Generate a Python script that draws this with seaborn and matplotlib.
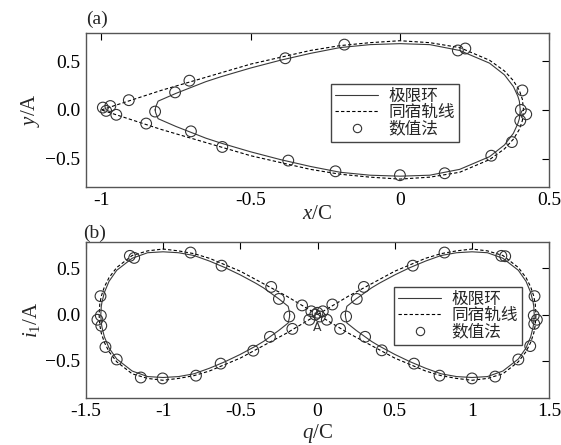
import matplotlib
matplotlib.use('Agg')
import matplotlib.pyplot as plt
import seaborn as sns
from matplotlib.lines import Line2D

# ---- data ----
# (a) limit cycle, upper half (x, y); lower half is the mirror in y
lc_a_x = [-0.82, -0.818, -0.81, -0.78, -0.75, -0.70, -0.65, -0.60, -0.50, -0.40,
          -0.30, -0.20, -0.10, 0.0, 0.10, 0.20, 0.30, 0.35, 0.38, 0.395, 0.40, 0.403]
lc_a_y = [0.0, 0.03, 0.09, 0.13, 0.17, 0.23, 0.29, 0.34, 0.43, 0.51,
          0.58, 0.64, 0.67, 0.68, 0.67, 0.61, 0.48, 0.36, 0.24, 0.14, 0.09, 0.0]
# (a) homoclinic orbit, upper half
ho_a_x = [-1.0, -0.9, -0.8, -0.7, -0.6, -0.5, -0.4, -0.3, -0.2, -0.1,
          0.0, 0.1, 0.2, 0.3, 0.35, 0.38, 0.40, 0.41, 0.414]
ho_a_y = [0.0, 0.10, 0.20, 0.29, 0.38, 0.47, 0.54, 0.61, 0.66, 0.69,
          0.71, 0.69, 0.64, 0.51, 0.40, 0.30, 0.20, 0.11, 0.0]
# (a) numerical points
num_a_x = [-0.995, -0.984, -0.97, -0.95, -0.908, -0.85, -0.82, -0.753, -0.705, -0.70,
           -0.595, -0.384, -0.186, -0.374, -0.216, 0.0, 0.194, 0.219, 0.41, 0.405,
           0.423, 0.403, 0.375, 0.306, 0.15]
num_a_y = [0.024, -0.01, 0.04, -0.05, 0.10, -0.14, -0.017, 0.18, 0.30, -0.22,
           -0.38, 0.53, 0.67, -0.52, -0.63, -0.67, 0.61, 0.63, 0.20, 0.0,
           -0.045, -0.11, -0.33, -0.47, -0.65]

# (b) right lobe of limit cycle, upper half; left lobe is the mirror in q
lc_b_q = [0.18, 0.182, 0.19, 0.22, 0.25, 0.30, 0.35, 0.40, 0.50, 0.60,
          0.70, 0.80, 0.90, 1.00, 1.10, 1.20, 1.30, 1.35, 1.38, 1.395, 1.40, 1.403]
lc_b_i = [0.0, 0.03, 0.09, 0.13, 0.17, 0.23, 0.29, 0.34, 0.43, 0.51,
          0.58, 0.64, 0.67, 0.68, 0.67, 0.61, 0.48, 0.36, 0.24, 0.14, 0.09, 0.0]
# (b) right lobe of homoclinic orbit, upper half
ho_b_q = [0.0, 0.1, 0.2, 0.3, 0.4, 0.5, 0.6, 0.7, 0.8, 0.9,
          1.0, 1.1, 1.2, 1.3, 1.35, 1.38, 1.40, 1.41, 1.414]
ho_b_i = [0.0, 0.10, 0.20, 0.29, 0.38, 0.47, 0.54, 0.61, 0.66, 0.69,
          0.71, 0.69, 0.64, 0.51, 0.40, 0.30, 0.20, 0.11, 0.0]
# (b) numerical points
num_b_q = [-1.215, -1.187, -0.822, -0.621, -1.405, -1.403, -1.425, -1.40, -1.373, -1.30,
           -1.144, -1.003, -0.787, -0.627, -0.30, -0.25, -0.10, -0.183, -0.163, -0.308,
           -0.416, -0.04, 0.034, -0.053, 0.06, -0.015, 0.015, 0.0,
           0.096, 0.30, 0.254, 0.185, 0.146, 0.308, 0.416, 0.617, 0.822, 1.19,
           1.215, 1.405, 1.40, 1.42, 1.403, 1.377, 1.30, 1.15, 1.0, 0.79, 0.625]
num_b_i = [0.636, 0.614, 0.672, 0.53, 0.20, -0.01, -0.055, -0.12, -0.35, -0.485,
           -0.68, -0.69, -0.66, -0.53, 0.30, 0.17, 0.10, -0.02, -0.154, -0.24,
           -0.39, 0.036, 0.036, -0.055, -0.055, 0.0, -0.02, 0.02,
           0.11, 0.30, 0.17, -0.02, -0.154, -0.24, -0.386, 0.53, 0.672, 0.636,
           0.632, 0.20, -0.01, -0.055, -0.10, -0.34, -0.485, -0.67, -0.69, -0.66, -0.53]

legend_labels = ['极限环', '同宿轨线', '数值法']
xticks_a = [-1, -0.5, 0, 0.5]
xticklabels_a = ['-1', '-0.5', '0', '0.5']
xticks_b = [-1.5, -1, -0.5, 0, 0.5, 1, 1.5]
xticklabels_b = ['-1.5', '-1', '-0.5', '0', '0.5', '1', '1.5']
yticks = [-0.5, 0.0, 0.5]
yticklabels = ['\u22120.5', '0.0', '0.5']


def closed(xs, ys):
    # upper half forward, lower half back
    return xs + xs[::-1], ys + [-v for v in ys[::-1]]


def draw_panel(ax, curves_lc, curves_ho, px, py):
    for cx, cy in curves_lc:
        sns.lineplot(x=cx, y=cy, sort=False, estimator=None, ax=ax,
                     color='#3a3a3a', linewidth=0.8)
    for cx, cy in curves_ho:
        sns.lineplot(x=cx, y=cy, sort=False, estimator=None, ax=ax,
                     color='black', linewidth=0.8, linestyle=(0, (3, 2)))
    sns.scatterplot(x=px, y=py, ax=ax, marker='o', s=60, facecolors='none',
                    edgecolor='#333333', linewidth=0.8, zorder=3)
    ax.tick_params(direction='in', length=5, width=0.8, top=True, right=True,
                   labelsize=14, colors='black', pad=4)
    for sp in ax.spines.values():
        sp.set_linewidth(1.0)
        sp.set_color('#555555')
    ax.set_yticks(yticks)
    ax.set_yticklabels(yticklabels)


def add_legend(ax, anchor):
    handles = [Line2D([], [], color='#3a3a3a', lw=0.8),
               Line2D([], [], color='black', lw=0.8, ls=(0, (3, 2))),
               Line2D([], [], color='#333333', lw=0, marker='o', markersize=6,
                      markerfacecolor='none', markeredgewidth=0.8)]
    leg = ax.legend(handles, legend_labels, loc='upper left', bbox_to_anchor=anchor,
                    frameon=True, fancybox=False, framealpha=1, edgecolor='#444444',
                    prop={'family': 'Noto Sans CJK SC', 'size': 12},
                    handlelength=2.6, handletextpad=0.6, labelspacing=-0.05,
                    borderpad=0.25, borderaxespad=0)
    leg.get_frame().set_linewidth(1.0)


sns.set_style('white')
plt.rcParams['font.family'] = ['Liberation Serif', 'Noto Sans CJK SC']
plt.rcParams['mathtext.fontset'] = 'custom'
plt.rcParams['mathtext.rm'] = 'Liberation Serif'
plt.rcParams['mathtext.it'] = 'Liberation Serif:italic'

fig = plt.figure(figsize=(5.61, 4.45), dpi=100)

# ---- panel (a) ----
ax1 = fig.add_axes([0.153, 0.580, 0.826, 0.346])
draw_panel(ax1, [closed(lc_a_x, lc_a_y)], [closed(ho_a_x, ho_a_y)], num_a_x, num_a_y)
ax1.set_xlim(-1.052, 0.5)
ax1.set_ylim(-0.79, 0.79)
ax1.set_xticks(xticks_a)
ax1.set_xticklabels(xticklabels_a)
ax1.set_xlabel(r'$\mathit{x}$/C', fontsize=15, labelpad=-3)
ax1.set_ylabel(r'$\mathit{y}$/A', fontsize=15, labelpad=2)
ax1.text(0.0, 1.03, '(a)', transform=ax1.transAxes, fontsize=14, ha='left', va='bottom')
add_legend(ax1, (0.529, 0.669))

# ---- panel (b) ----
ax2 = fig.add_axes([0.153, 0.106, 0.826, 0.351])
lc_right = closed(lc_b_q, lc_b_i)
lc_left = ([-v for v in lc_right[0]], lc_right[1])
ho_right = closed(ho_b_q, ho_b_i)
ho_left = ([-v for v in ho_right[0]], ho_right[1])
draw_panel(ax2, [lc_right, lc_left], [ho_right, ho_left], num_b_q, num_b_i)
ax2.set_xlim(-1.5, 1.5)
ax2.set_ylim(-0.9, 0.79)
ax2.set_xticks(xticks_b)
ax2.set_xticklabels(xticklabels_b)
ax2.set_xlabel(r'$\mathit{q}$/C', fontsize=15, labelpad=1)
ax2.set_ylabel(r'$\mathit{i}_1$/A', fontsize=15, labelpad=2)
ax2.text(-0.005, 0.995, '(b)', transform=ax2.transAxes, fontsize=14, ha='left', va='bottom')
ax2.text(0.0, -0.14, 'A', fontsize=9, ha='center', va='center',
         family='DejaVu Sans', color='#333333')
add_legend(ax2, (0.665, 0.71))

fig.savefig('out.png', dpi=100)
